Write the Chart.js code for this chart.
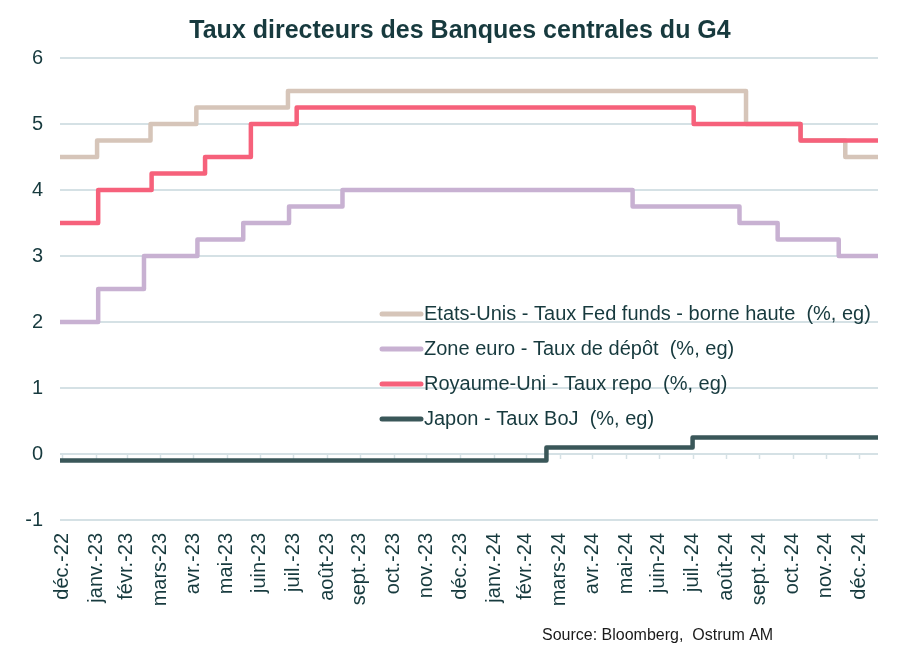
<!DOCTYPE html>
<html>
<head>
<meta charset="utf-8">
<script src="https://cdn.jsdelivr.net/npm/chart.js@4.4.1/dist/chart.umd.min.js"></script>
<style>
  body { margin: 0; background: #fff; }
  #chartCanvas { display: block; }
</style>
</head>
<body>
<canvas id="chartCanvas" width="921" height="661"></canvas>
<script>
// taux directeurs, date de changement -> nouveau taux (dernier point = fin de serie)
const fedDates = ['2022-12-29','2023-02-01','2023-03-22','2023-05-03','2023-07-26','2024-09-18','2024-11-07','2024-12-18','2025-01-17']
const fedRates = [4.5, 4.75, 5.0, 5.25, 5.5, 5.0, 4.75, 4.5, 4.5]

const ecbDates = ['2022-12-29','2023-02-02','2023-03-16','2023-05-04','2023-06-15','2023-07-27','2023-09-14','2024-06-06','2024-09-12','2024-10-17','2024-12-12','2025-01-17']
const ecbRates = [2.0, 2.5, 3.0, 3.25, 3.5, 3.75, 4.0, 3.75, 3.5, 3.25, 3.0, 3.0]

const ukDates = ['2022-12-29','2023-02-02','2023-03-23','2023-05-11','2023-06-22','2023-08-03','2024-08-01','2024-11-07','2025-01-17']
const ukRates = [3.5, 4.0, 4.25, 4.5, 5.0, 5.25, 5.0, 4.75, 4.75]

const jpDates = ['2022-12-29','2024-03-19','2024-07-31','2025-01-17']
const jpRates = [-0.1, 0.1, 0.25, 0.25]

const seriesLabels = [
    'Etats-Unis - Taux Fed funds - borne haute  (%, eg)',
    'Zone euro - Taux de dépôt  (%, eg)',
    'Royaume-Uni - Taux repo  (%, eg)',
    'Japon - Taux BoJ  (%, eg)'
]
const seriesColors = ['#d6c5b9', '#c8b1d2', '#f6617b', '#3a5759']

const monthLabels = ['déc.-22','janv.-23','févr.-23','mars-23','avr.-23','mai-23','juin-23','juil.-23','août-23','sept.-23','oct.-23','nov.-23',
    'déc.-23','janv.-24','févr.-24','mars-24','avr.-24','mai-24','juin-24','juil.-24','août-24','sept.-24','oct.-24','nov.-24','déc.-24']
const yTicks = [-1, 0, 1, 2, 3, 4, 5, 6]

const titleText = 'Taux directeurs des Banques centrales du G4'
const sourceText = 'Source: Bloomberg,  Ostrum AM'

const textColor = '#173a3e'
const gridColor = '#d5e1e5'
const fontFamily = "'Liberation Sans', Arial, sans-serif"

function dayNum(s) {
    const p = s.split('-').map(Number)
    return Date.UTC(p[0], p[1] - 1, p[2]) / 86400000
}

// labels sit at month end (Excel style)
const monthTicks = monthLabels.map((l, i) => Date.UTC(2022, 11 + i + 1, 0) / 86400000)

function toPoints(dates, rates) {
    return dates.map((d, i) => ({ x: dayNum(d), y: rates[i] }))
}

const allSeries = [
    toPoints(fedDates, fedRates),
    toPoints(ecbDates, ecbRates),
    toPoints(ukDates, ukRates),
    toPoints(jpDates, jpRates)
]
const drawOrder = [4, 3, 2, 1]

// title, small tick marks on the zero line, legend, source
const extras = {
    id: 'extras',
    beforeDatasetsDraw(chart) {
        const { ctx, scales: { x, y } } = chart
        const y0 = y.getPixelForValue(0)
        ctx.save()
        ctx.strokeStyle = gridColor
        ctx.lineWidth = 1.5
        monthTicks.forEach(t => {
            const px = Math.round(x.getPixelForValue(t)) + 0.5
            ctx.beginPath()
            ctx.moveTo(px, y0)
            ctx.lineTo(px, y0 + 5)
            ctx.stroke()
        })
        ctx.restore()
    },
    afterDraw(chart) {
        const ctx = chart.ctx
        ctx.save()
        ctx.textBaseline = 'middle'
        ctx.font = 'bold 25px ' + fontFamily
        ctx.fillStyle = textColor
        ctx.textAlign = 'center'
        ctx.fillText(titleText, 460, 31)
        ctx.textAlign = 'left'
        ctx.font = '20px ' + fontFamily
        seriesLabels.forEach((label, i) => {
            const rowY = 314 + i * 35
            ctx.strokeStyle = seriesColors[i]
            ctx.lineWidth = 5
            ctx.lineCap = 'round'
            ctx.beginPath()
            ctx.moveTo(382, rowY)
            ctx.lineTo(421, rowY)
            ctx.stroke()
            ctx.fillStyle = textColor
            ctx.fillText(label, 424, rowY)
        })
        ctx.font = '16px ' + fontFamily
        ctx.fillStyle = '#1a1a1a'
        ctx.fillText(sourceText, 542, 636)
        ctx.restore()
    }
}

const chart = new Chart(document.getElementById('chartCanvas'), {
    type: 'line',
    data: {
        datasets: allSeries.map((pts, i) => ({
            label: seriesLabels[i],
            data: pts,
            borderColor: seriesColors[i],
            backgroundColor: seriesColors[i],
            borderWidth: 4.5,
            borderJoinStyle: 'round',
            stepped: 'before',
            pointRadius: 0,
            fill: false,
            order: drawOrder[i]
        }))
    },
    options: {
        responsive: false,
        animation: false,
        layout: { padding: { left: 0, right: 43, top: 58, bottom: 0 } },
        plugins: {
            legend: { display: false },
            tooltip: { enabled: false },
            title: { display: false }
        },
        scales: {
            x: {
                type: 'linear',
                min: dayNum(fedDates[0]),
                max: dayNum(fedDates[fedDates.length - 1]),
                afterBuildTicks: s => { s.ticks = monthTicks.map(v => ({ value: v })) },
                afterFit: s => { s.height = 141 },
                grid: { display: false, drawTicks: false },
                border: { display: false },
                ticks: {
                    autoSkip: false,
                    minRotation: 90,
                    maxRotation: 90,
                    padding: 13,
                    color: textColor,
                    font: { family: fontFamily, size: 20 },
                    callback: (v, i) => monthLabels[i]
                }
            },
            y: {
                min: yTicks[0],
                max: yTicks[yTicks.length - 1],
                afterBuildTicks: s => { s.ticks = yTicks.map(v => ({ value: v })) },
                afterFit: s => { s.width = 60 },
                grid: { color: gridColor, lineWidth: 2, drawTicks: false },
                border: { display: false },
                ticks: {
                    padding: 17,
                    color: textColor,
                    font: { family: fontFamily, size: 20 }
                }
            }
        }
    },
    plugins: [extras]
})
</script>
</body>
</html>
